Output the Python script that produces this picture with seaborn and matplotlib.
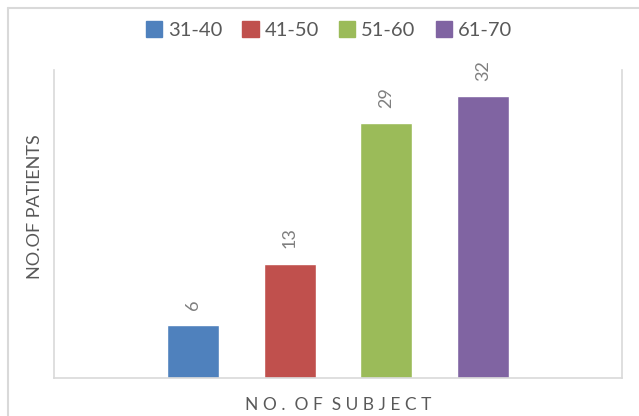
import matplotlib
matplotlib.use('Agg')
import matplotlib.pyplot as plt
import matplotlib.patches as mpatches
import pandas as pd
import seaborn as sns

sns.set_style('white')
plt.rcParams['font.family'] = ['Lato', 'DejaVu Sans']

# data
age_groups = ['31-40', '41-50', '51-60', '61-70']
patients = [6, 13, 29, 32]
colors = ['#4F81BD', '#C0504D', '#9BBB59', '#8064A2']

df = pd.DataFrame({'age': age_groups, 'patients': patients})

fig = plt.figure(figsize=(6.39, 4.16), dpi=100)
ax = fig.add_axes([54 / 639, 38 / 416, 568 / 639, 308 / 416])

sns.barplot(data=df, x='age', y='patients', hue='age', palette=colors,
            width=0.54, dodge=False, legend=False, ax=ax, saturation=1)

for i, v in enumerate(patients):
    ax.annotate(str(v), (i, v), xytext=(0, 11), textcoords='offset points',
                rotation=90, ha='center', va='bottom', fontsize=13, color='#7F7F7F')

ax.set_ylim(0, 35)
ax.set_xlim(-1.44, 4.44)
ax.set_xticks([])
ax.set_yticks([])
ax.set_xlabel('')
ax.set_ylabel('')

for side in ['left', 'right', 'bottom']:
    ax.spines[side].set_color('#D9D9D9')
    ax.spines[side].set_linewidth(1.2)
ax.spines['top'].set_visible(False)

# axis titles
fig.text(35 / 639, 1 - 207 / 416, 'NO.OF PATIENTS', rotation=90, ha='center', va='center',
         fontsize=13, color='#595959')
fig.text(338 / 639, 1 - 405 / 416, 'N O .  O F  S U B J E C T', ha='center', va='center',
         fontsize=12.5, color='#595959')

# legend
handles = [mpatches.Patch(color=c, label=a) for a, c in zip(age_groups, colors)]
fig.legend(handles=handles, loc='center', bbox_to_anchor=(329 / 639, 1 - 30 / 416), ncol=4,
           frameon=False, fontsize=14.5, handlelength=0.8, handleheight=0.8,
           handletextpad=0.3, columnspacing=1.0, labelcolor='#595959')

# outer chart border
fig.add_artist(plt.Line2D([8 / 639, 8 / 639], [0, 1 - 8 / 416], color='#D9D9D9', lw=1.5))
fig.add_artist(plt.Line2D([8 / 639, 1], [1 - 8 / 416, 1 - 8 / 416], color='#D9D9D9', lw=1.5))

fig.savefig('out.png', dpi=100)
